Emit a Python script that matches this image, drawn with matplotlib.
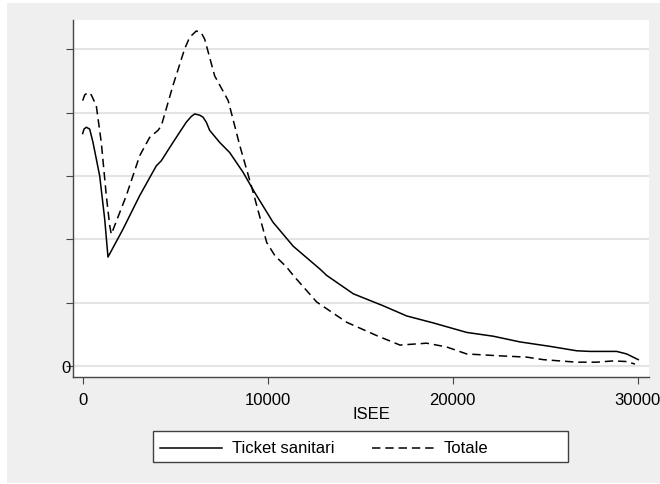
"""
Kernel density of ISEE: Ticket sanitari vs Totale (Stata-style chart).
"""

import matplotlib
matplotlib.use("Agg")
import matplotlib.pyplot as plt
from matplotlib.lines import Line2D
from matplotlib.patches import Rectangle

plt.rcParams["font.family"] = ["Liberation Sans", "DejaVu Sans"]

# Density curves (y in grid-step units)
TICKET_X = [0, 70, 195, 378, 557, 919, 1189, 1367, 2178, 3081, 3978, 4248,
            4881, 5600, 5870, 6054, 6324, 6502, 6680, 6865, 7405, 7946, 8665,
            9297, 10286, 11383, 12826, 13188, 14626, 16248, 17513, 18950,
            20393, 20755, 22193, 23636, 25257, 26700, 27420, 28863, 29403, 30030]
TICKET_Y = [3.67, 3.74, 3.77, 3.74, 3.53, 3.00, 2.32, 1.72, 2.16, 2.69, 3.16,
            3.24, 3.53, 3.85, 3.94, 3.98, 3.96, 3.93, 3.85, 3.72, 3.53, 3.37,
            3.06, 2.74, 2.27, 1.89, 1.53, 1.43, 1.14, 0.95, 0.79, 0.68, 0.56,
            0.53, 0.47, 0.38, 0.31, 0.24, 0.23, 0.23, 0.19, 0.10]

TOTALE_X = [0, 108, 286, 465, 735, 1005, 1276, 1459, 1546, 2357, 3081, 3621,
            4070, 4248, 4881, 5513, 5784, 6140, 6410, 6594, 7135, 7865, 8492,
            9216, 9946, 10394, 11027, 11383, 12648, 14270, 15892, 17151, 18594,
            19676, 20755, 22556, 24000, 24897, 26700, 27781, 28680, 29403, 29854]
TOTALE_Y = [4.19, 4.28, 4.32, 4.28, 4.11, 3.53, 2.69, 2.22, 2.08, 2.69, 3.32,
            3.61, 3.72, 3.79, 4.43, 5.01, 5.19, 5.29, 5.26, 5.16, 4.58, 4.19,
            3.48, 2.74, 1.95, 1.74, 1.56, 1.43, 1.01, 0.69, 0.48, 0.33, 0.36,
            0.30, 0.19, 0.16, 0.14, 0.10, 0.06, 0.06, 0.08, 0.07, 0.03]

X_TICKS = [0, 10000, 20000, 30000]
Y_TICKS = [0, 1, 2, 3, 4, 5]
Y_TICK_LABELS = ["0", "", "", "", "", ""]
X_LABEL = "ISEE"
SERIES_LABELS = ["Ticket sanitari", "Totale"]

W, H = 660, 485
BG = "#EFEFEF"
AXIS_COLOR = "#454545"
DASH = (0, (5.5, 3.2))


def fx(px):
    return px / W


def fy(py):
    return 1 - py / H


fig = plt.figure(figsize=(W / 100, H / 100), dpi=100, facecolor="white")
fig.patches.append(Rectangle((fx(7), fy(484)), fx(660) - fx(7), fy(4) - fy(484),
                             transform=fig.transFigure, facecolor=BG,
                             edgecolor="none", zorder=-5))

ax = fig.add_axes([fx(73), fy(378), fx(649) - fx(73), fy(21) - fy(378)])
ax.set_facecolor("white")

ax.plot(TICKET_X, TICKET_Y, color="black", linewidth=1.1, zorder=3)
ax.plot(TOTALE_X, TOTALE_Y, color="black", linewidth=1.1, linestyle=DASH, zorder=3)

ax.set_xlim(-524, 30611)
ax.set_ylim(-0.174, 5.463)
ax.set_xticks(X_TICKS)
ax.set_xticklabels([str(t) for t in X_TICKS])
ax.set_yticks(Y_TICKS)
ax.set_yticklabels(Y_TICK_LABELS)
ax.grid(True, axis="y", color="#E4E4E4", linewidth=1.5, zorder=0)
ax.set_axisbelow(True)

for side in ["top", "right"]:
    ax.spines[side].set_visible(False)
for side in ["left", "bottom"]:
    ax.spines[side].set_color(AXIS_COLOR)
    ax.spines[side].set_linewidth(1.0)

ax.tick_params(axis="x", direction="out", length=5, width=0.8, color=AXIS_COLOR,
               labelsize=12, pad=5.5, labelcolor="black")
ax.tick_params(axis="y", direction="out", length=5, width=0.8, color=AXIS_COLOR,
               labelsize=12, pad=-3.6, labelcolor="black")

ax.set_xlabel(X_LABEL, fontsize=12, va="center")
ax.xaxis.set_label_coords((371.5 - 73) / 576, (378 - 415) / 357)

# legend drawn as a Stata-style box below the plot
fig.patches.append(Rectangle((fx(152.7), fy(463.3)), fx(567.7) - fx(152.7),
                             fy(431.7) - fy(463.3), transform=fig.transFigure,
                             facecolor="white", edgecolor="#404040",
                             linewidth=1.0, zorder=2))
row_y = fy(449)
fig.lines.append(Line2D([fx(160), fx(221.7)], [row_y, row_y], transform=fig.transFigure,
                        color="black", linewidth=1.1, zorder=3))
fig.text(fx(231.7), row_y, SERIES_LABELS[0], fontsize=12, va="center", ha="left", zorder=3)
fig.lines.append(Line2D([fx(371.7), fx(435)], [row_y, row_y], transform=fig.transFigure,
                        color="black", linewidth=1.1, linestyle=DASH, zorder=3))
fig.text(fx(443.3), row_y, SERIES_LABELS[1], fontsize=12, va="center", ha="left", zorder=3)

fig.savefig("out.png", dpi=100, facecolor=fig.get_facecolor())
plt.close(fig)
